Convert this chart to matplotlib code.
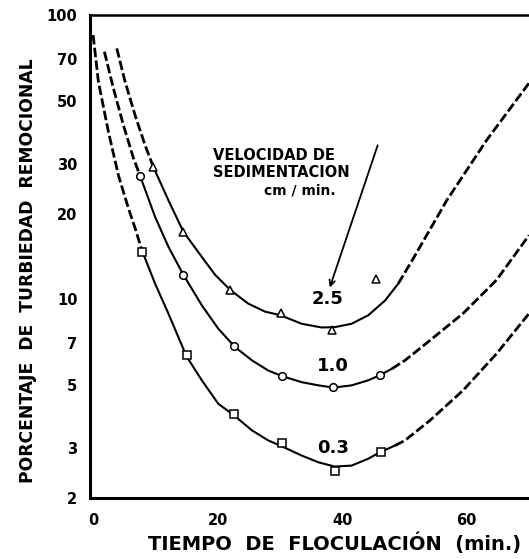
import matplotlib
matplotlib.use("Agg")
import matplotlib.pyplot as plt

# ---- data (time in min, turbidity %) ----
# velocity 0.3 cm/min
t03_pre = [0.0, 0.85, 2.46, 4.06, 5.67, 6.74, 7.82]
y03_pre = [85.0, 58.2, 38.8, 27.3, 20.9, 17.8, 14.9]
t03_mid = [7.82, 9.95, 12.09, 15.0, 17.45, 20.1, 22.6, 25.5, 28.1, 30.3, 33.5, 36.2,
           38.8, 41.5, 44.2, 46.1, 48.5]
y03_mid = [14.9, 11.35, 8.91, 6.30, 5.19, 4.29, 3.91, 3.46, 3.19, 3.04, 2.82, 2.67,
           2.58, 2.60, 2.75, 2.90, 3.06]
t03_post = [48.5, 50.1, 54.1, 59.4, 64.8, 70.0]
y03_post = [3.06, 3.19, 3.75, 4.78, 6.44, 8.91]
t03_pts = [7.8, 15.0, 22.6, 30.4, 38.8, 46.2]
y03_pts = [14.7, 6.35, 3.96, 3.12, 2.49, 2.90]

# velocity 1.0 cm/min
t10_pre = [1.81, 3.26, 4.86, 6.47, 7.54]
y10_pre = [74.3, 55.2, 41.0, 31.4, 27.2]
t10_mid = [7.54, 9.95, 12.09, 14.49, 17.45, 20.1, 22.8, 25.5, 28.1, 30.3, 33.5, 36.2,
           38.6, 41.5, 44.2, 46.0, 48.0]
y10_mid = [27.2, 19.5, 15.3, 12.2, 9.53, 7.88, 6.79, 6.10, 5.62, 5.37, 5.11, 4.98,
           4.89, 4.98, 5.19, 5.40, 5.70]
t10_post = [48.0, 50.1, 54.1, 59.4, 64.8, 70.0]
y10_post = [5.70, 6.10, 7.17, 8.91, 11.7, 16.8]
t10_pts = [7.5, 14.5, 22.6, 30.3, 38.6, 46.0]
y10_pts = [27.1, 12.2, 6.84, 5.36, 4.91, 5.40]

# velocity 2.5 cm/min
t25_pre = [3.80, 5.14, 6.74, 8.35, 9.68]
y25_pre = [76.3, 58.2, 44.4, 34.8, 29.2]
t25_mid = [9.68, 12.09, 14.49, 17.45, 19.58, 22.0, 24.9, 27.6, 30.0, 33.5, 36.7,
           38.8, 41.5, 44.2, 46.9, 49.0]
y25_mid = [29.2, 22.3, 17.3, 14.1, 12.2, 10.8, 9.66, 9.05, 8.80, 8.20, 7.96,
           7.98, 8.20, 8.79, 9.91, 11.35]
t25_post = [49.0, 51.4, 56.8, 63.2, 70.0]
y25_post = [11.35, 13.9, 22.3, 36.3, 57.6]
t25_pts = [9.6, 14.4, 22.0, 30.2, 38.3, 45.4]
y25_pts = [29.2, 17.3, 10.8, 8.93, 7.78, 11.75]

yticks = [2, 3, 5, 7, 10, 20, 30, 50, 70, 100]
ytick_labels = ["2", "3", "5", "7", "10", "20", "30", "50", "70", "100"]
xticks = [0, 20, 40, 60]
xtick_labels = ["0", "20", "40", "60"]

curve_labels = ["2.5", "1.0", "0.3"]
curve_label_pos = [(37.7, 10.0), (38.5, 5.81), (38.5, 3.01)]

plt.rcParams['font.family'] = ['DejaVu Sans']
fig = plt.figure(figsize=(5.29, 5.59), dpi=100)
ax = fig.add_axes([90/529, 61/559, 439/529, 483/559])
ax.set_yscale('log')
ax.set_xlim(-0.5, 70.0)
ax.set_ylim(2, 100)

solid_kw = dict(color='black', lw=1.5, solid_capstyle='round', solid_joinstyle='round')
dash_kw = dict(color='black', lw=2.0, dashes=(3.4, 1.2))
mk_kw = dict(linestyle='none', mfc='white', mec='black', mew=1.1, ms=5.5, zorder=5)

for pre_t, pre_y, mid_t, mid_y, post_t, post_y, pt_t, pt_y, mk in [
        (t03_pre, y03_pre, t03_mid, y03_mid, t03_post, y03_post, t03_pts, y03_pts, 's'),
        (t10_pre, y10_pre, t10_mid, y10_mid, t10_post, y10_post, t10_pts, y10_pts, 'o'),
        (t25_pre, y25_pre, t25_mid, y25_mid, t25_post, y25_post, t25_pts, y25_pts, '^')]:
    ax.plot(pre_t, pre_y, **dash_kw)
    ax.plot(mid_t, mid_y, **solid_kw)
    ax.plot(post_t, post_y, **dash_kw)
    ax.plot(pt_t, pt_y, marker=mk, **mk_kw)

for lab, (tx, ty) in zip(curve_labels, curve_label_pos):
    ax.text(tx, ty, lab, ha='center', va='center', fontsize=13, fontweight='bold')

ax.text(19.3, 32.1, "VELOCIDAD DE", ha='left', va='center', fontsize=10.5, fontweight='bold')
ax.text(19.3, 28.0, "SEDIMENTACION", ha='left', va='center', fontsize=10.5, fontweight='bold')
ax.text(33.2, 24.2, "cm / min.", ha='center', va='center', fontsize=10, fontweight='bold')
ax.annotate("", xy=(38.0, 11.0), xytext=(45.7, 34.8),
            arrowprops=dict(arrowstyle='->', color='black', lw=1.3,
                            shrinkA=0, shrinkB=0, mutation_scale=10))

ax.set_yticks(yticks)
ax.set_yticklabels(ytick_labels)
ax.minorticks_off()
ax.set_xticks(xticks)
ax.set_xticklabels(xtick_labels)
ax.tick_params(axis='y', length=0, pad=9, labelsize=10.5)
ax.tick_params(axis='x', length=0, pad=11, labelsize=10.5)
for lbl in ax.get_xticklabels() + ax.get_yticklabels():
    lbl.set_fontweight('bold')

for s in ['left', 'bottom']:
    ax.spines[s].set_linewidth(2.2)
ax.spines['top'].set_linewidth(1.8)
ax.spines['right'].set_visible(False)

fig.text(335/529, 1 - 543/559, "TIEMPO  DE  FLOCULACIÓN  (min.)", ha='center', va='center',
         fontsize=14, fontweight='bold')
fig.text(28/529, 1 - 271/559, "PORCENTAJE  DE  TURBIEDAD  REMOCIONAL", ha='center', va='center',
         rotation=90, fontsize=12.3, fontweight='bold')

fig.savefig("out.png", dpi=100)
